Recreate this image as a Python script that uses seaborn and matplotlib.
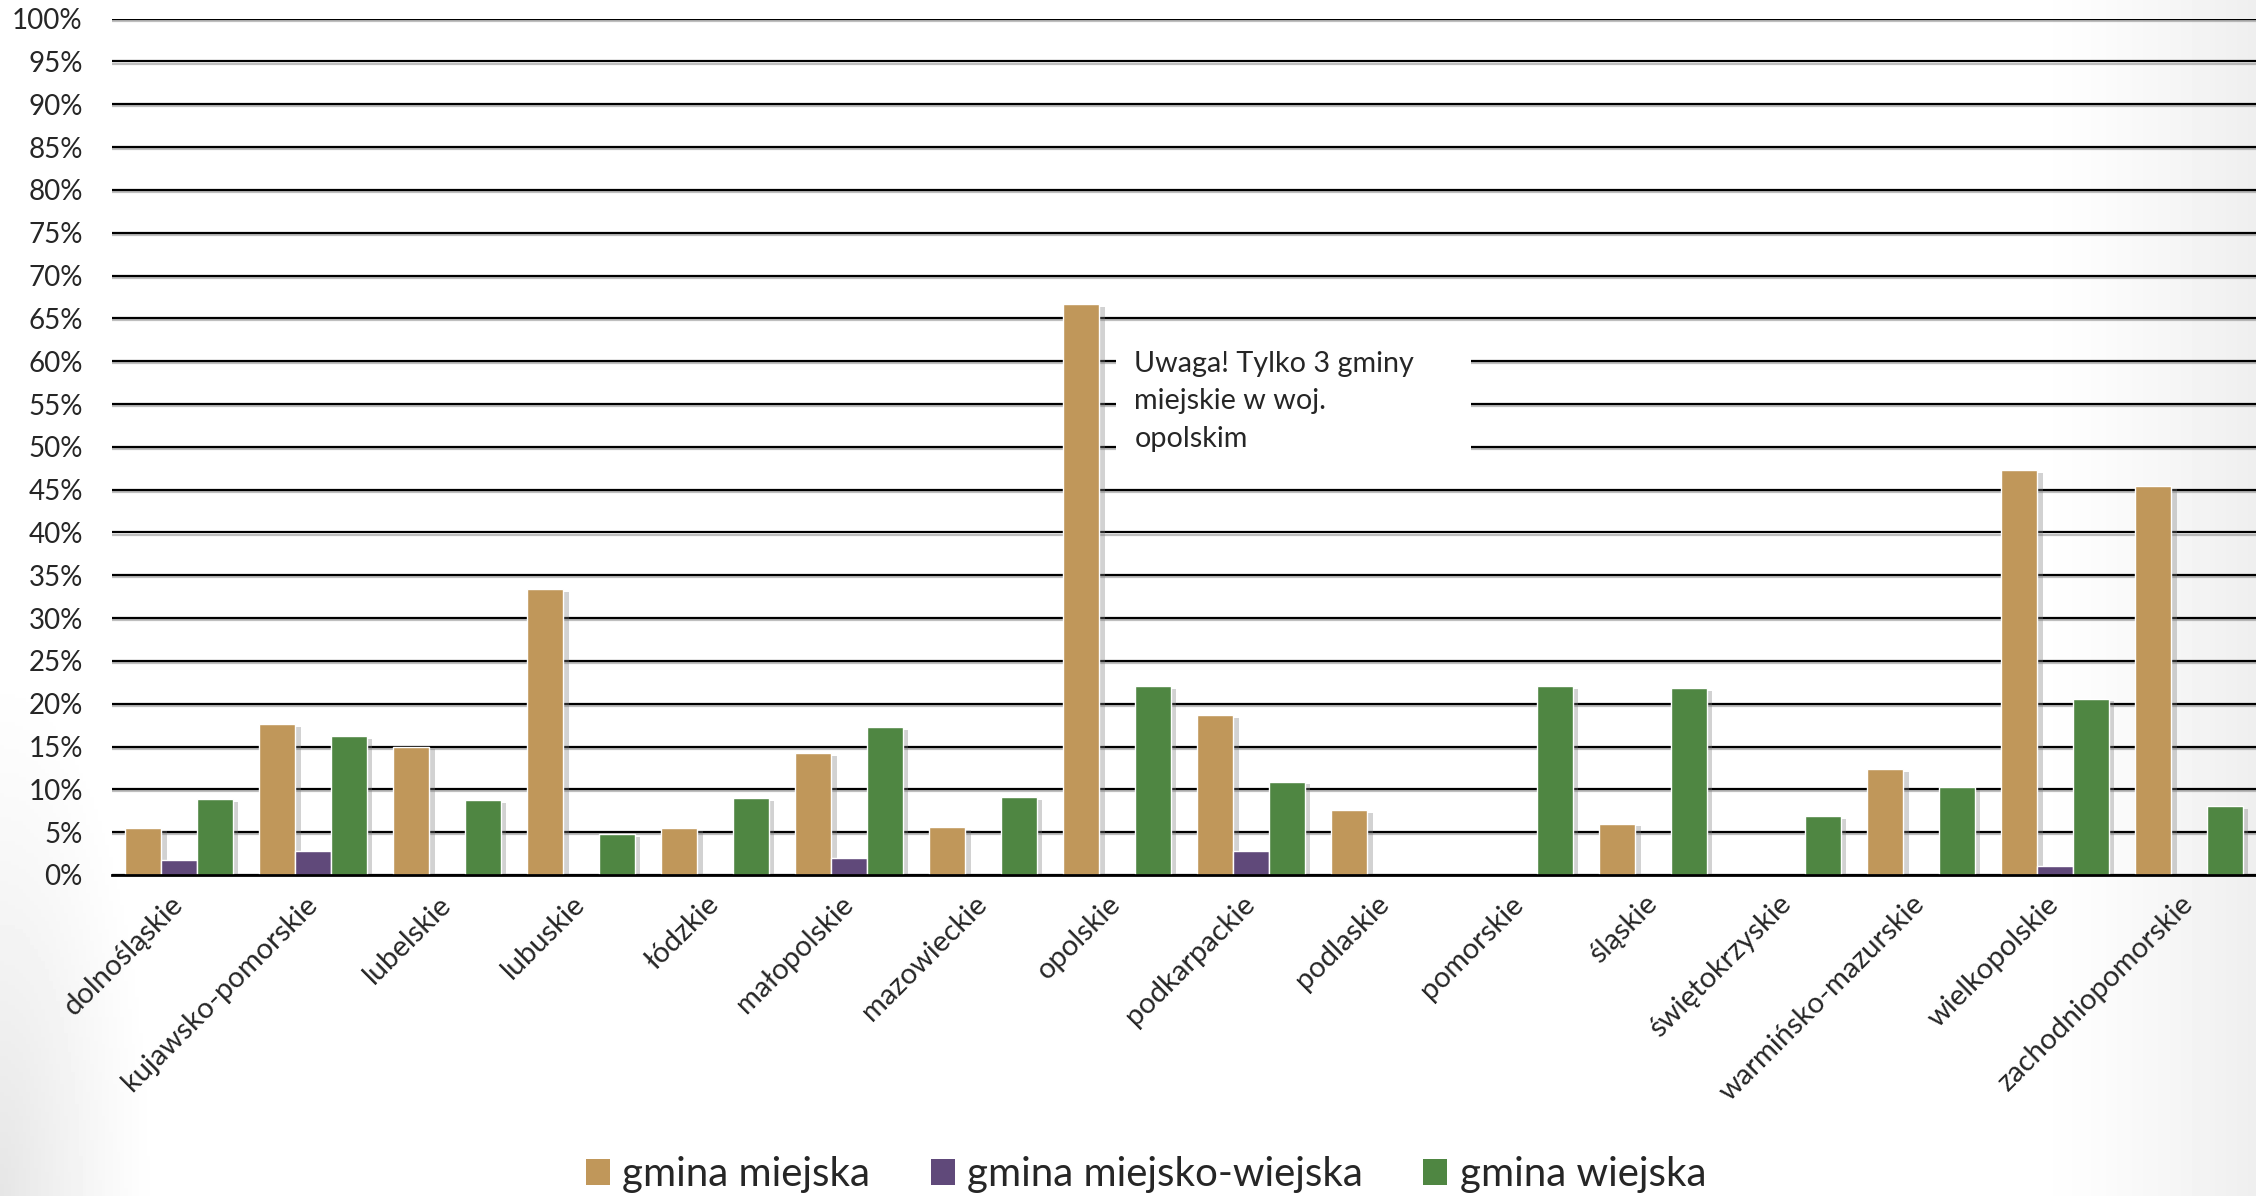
import numpy as np
import pandas as pd
import seaborn as sns
import matplotlib.pyplot as plt
import matplotlib.patheffects as pe
from matplotlib.patches import Rectangle, Patch

sns.set_style("white")
plt.rcParams['font.family'] = ['Lato', 'DejaVu Sans']

regions = ["dolnośląskie", "kujawsko-pomorskie", "lubelskie", "lubuskie", "łódzkie",
           "małopolskie", "mazowieckie", "opolskie", "podkarpackie", "podlaskie",
           "pomorskie", "śląskie", "świętokrzyskie", "warmińsko-mazurskie",
           "wielkopolskie", "zachodniopomorskie"]
types = ["gmina miejska", "gmina miejsko-wiejska", "gmina wiejska"]

# percent values, NaN = no bar
miejska = [5.5, 17.6, 15.0, 33.4, 5.5, 14.2, 5.6, 66.7, 18.7, 7.6,
           np.nan, 6.0, np.nan, 12.4, 47.3, 45.4]
miejsko_wiejska = [1.8, 2.8, np.nan, np.nan, np.nan, 2.0, np.nan, np.nan, 2.8, np.nan,
                   np.nan, np.nan, np.nan, np.nan, 1.0, np.nan]
wiejska = [8.9, 16.2, 8.7, 4.8, 9.0, 17.3, 9.1, 22.1, 10.9, np.nan,
           22.1, 21.8, 6.9, 10.3, 20.6, 8.0]

colors = ["#C0975A", "#60497A", "#4F8642"]

df = pd.DataFrame({
    "region": regions * 3,
    "typ": [types[0]] * 16 + [types[1]] * 16 + [types[2]] * 16,
    "value": miejska + miejsko_wiejska + wiejska,
})

fig = plt.figure(figsize=(22.56, 11.96), dpi=100)

# soft grey vignette at the edges
bg = fig.add_axes([0, 0, 1, 1], zorder=-10)
gx, gy = np.meshgrid(np.linspace(0, 1, 600), np.linspace(0, 1, 300))
dark = 0.065 * np.clip((gx - 0.9) / 0.1, 0, 1) ** 1.3
r = np.sqrt((gx / 0.07) ** 2 + ((1 - gy) / 0.45) ** 2)
dark += 0.10 * np.clip(1 - r, 0, 1) ** 1.2
bg.imshow(1 - dark, cmap="gray", vmin=0, vmax=1, aspect="auto", extent=(0, 1, 0, 1), origin="upper")
bg.axis("off")

ax = fig.add_axes([0.0496, 0.2684, 0.9504, 0.7160])
ax.patch.set_alpha(0)

sns.barplot(data=df, x="region", y="value", hue="typ", order=regions, hue_order=types,
            palette=colors, saturation=1, width=0.8, errorbar=None, legend=False, ax=ax)

for p in ax.patches:
    p.set_path_effects([pe.SimplePatchShadow(offset=(4, -2), shadow_rgbFace="gray", alpha=0.35),
                        pe.Normal()])

ax.set_ylim(0, 100)
ax.set_xlim(-0.5, 15.5)
ax.set_yticks(range(0, 101, 5))
ax.set_yticklabels([f"{v}%" for v in range(0, 101, 5)])
ax.tick_params(axis="y", length=0, pad=21, labelsize=20)

ax.set_xticks(np.arange(-0.5, 16, 1))
ax.set_xticklabels([])
ax.set_xticks(np.arange(16), minor=True)
ax.set_xticklabels(regions, minor=True, rotation=45, ha="right", va="center",
                   rotation_mode="anchor", fontsize=21)
ax.tick_params(axis="x", which="major", length=8, width=1.5, direction="out", color="black")
ax.tick_params(axis="x", which="minor", length=0, pad=18)

ax.set_axisbelow(True)
ax.yaxis.grid(True, color="black", lw=1.6)
for line in ax.get_ygridlines():
    line.set_path_effects([pe.SimpleLineShadow(offset=(0, -1.5), shadow_color="gray", alpha=0.5),
                           pe.Normal()])

for s in ["left", "top", "right"]:
    ax.spines[s].set_visible(False)
ax.spines["bottom"].set_color("black")
ax.spines["bottom"].set_linewidth(2)
ax.set_xlabel("")
ax.set_ylabel("")

# note box for opolskie
ax.add_patch(Rectangle((6.99, 46.6), 2.65, 17.0, facecolor="white", edgecolor="none", zorder=0.8))
ax.text(7.13, 55.3, "Uwaga! Tylko 3 gminy\nmiejskie w woj.\nopolskim", ha="left", va="center",
        fontsize=20.7, linespacing=1.55, zorder=2)

handles = [Patch(facecolor=c, edgecolor="none") for c in colors]
fig.legend(handles, types, loc="center", bbox_to_anchor=(0.508, 0.018), ncol=3, frameon=False,
           fontsize=29, handlelength=0.6, handleheight=0.6, handletextpad=0.3, columnspacing=1.5)

fig.savefig("out.png", dpi=100)
